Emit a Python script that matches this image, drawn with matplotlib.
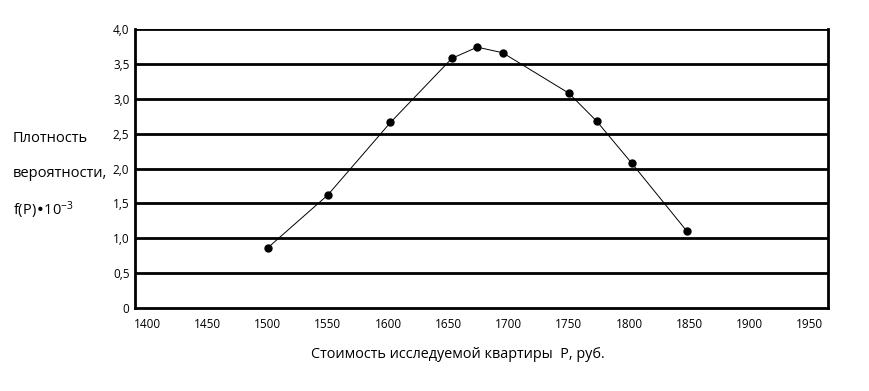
import matplotlib
matplotlib.use("Agg")
import matplotlib.pyplot as plt

plt.rcParams['font.family'] = ['Open Sans', 'DejaVu Sans']
plt.rcParams['mathtext.default'] = 'regular'

# price, rub.
price = [1500, 1550, 1602, 1653, 1674, 1695, 1750, 1773, 1802, 1848]
# density f(P) * 10^-3
density = [0.86, 1.62, 2.66, 3.58, 3.74, 3.66, 3.08, 2.68, 2.08, 1.10]

x_ticks = [1400, 1450, 1500, 1550, 1600, 1650, 1700, 1750, 1800, 1850, 1900, 1950]
y_ticks = [0, 0.5, 1.0, 1.5, 2.0, 2.5, 3.0, 3.5, 4.0]
y_tick_labels = ["0", "0,5", "1,0", "1,5", "2,0", "2,5", "3,0", "3,5", "4,0"]

fig = plt.figure(figsize=(8.69, 3.91), dpi=100)
ax = fig.add_axes([0.1553, 0.2123, 0.7975, 0.7135])

# horizontal grid lines (the top one doubles as the upper frame)
for y in y_ticks[1:]:
    ax.axhline(y, color="black", lw=2.0, zorder=1)

ax.plot(price, density, color="black", lw=0.7, marker="o", ms=5, zorder=3)

ax.set_xlim(1390, 1965)
ax.set_ylim(0, 4.0)
ax.set_xticks(x_ticks)
ax.set_yticks(y_ticks)
ax.set_yticklabels(y_tick_labels)
ax.tick_params(length=0, labelsize=8.5, pad=4)
ax.tick_params(axis="x", pad=7)

ax.spines["top"].set_visible(False)
for s in ["left", "bottom", "right"]:
    ax.spines[s].set_linewidth(2.0)

fig.text(0.014, 0.645, "Плотность", fontsize=10.5, ha="left", va="center")
fig.text(0.015, 0.555, "вероятности,", fontsize=10.5, ha="left", va="center")
fig.text(0.015, 0.463, "f(P)•10$^{-3}$", fontsize=10.5, ha="left", va="center")

fig.text(0.527, 0.093, "Стоимость исследуемой квартиры  P, руб.", fontsize=10.4,
         ha="center", va="center")

fig.savefig("out.png", dpi=100)
